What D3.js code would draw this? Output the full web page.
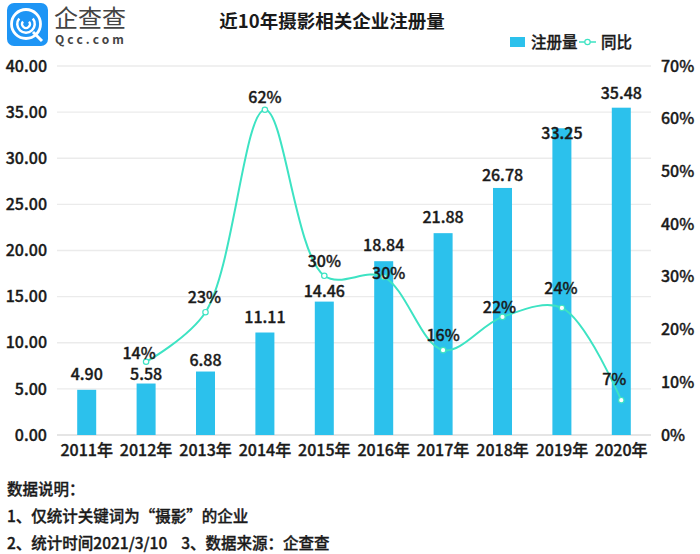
<!DOCTYPE html>
<html>
<head>
<meta charset="utf-8">
<script src="https://cdn.jsdelivr.net/npm/d3@7"></script>
<style>
  html, body { margin: 0; padding: 0; background: #fff; }
  text { font-family: "Noto Sans CJK SC", "Noto Sans", sans-serif; fill: #1a1a1a; }
  .medium, .axis text { stroke: #1a1a1a; stroke-width: 0.35px; }
</style>
</head>
<body>
<svg id="vis" width="700" height="554"></svg>
<script>
var years = ['2011年','2012年','2013年','2014年','2015年','2016年','2017年','2018年','2019年','2020年'];
var registered = [4.90, 5.58, 6.88, 11.11, 14.46, 18.84, 21.88, 26.78, 33.25, 35.48];
var yoyYears = ['2012年','2013年','2014年','2015年','2016年','2017年','2018年','2019年','2020年'];
var yoy = [14, 23, 62, 30, 30, 16, 22, 24, 7];
var yoyExact = [13.9, 23.3, 61.7, 30.2, 30.0, 16.1, 22.4, 24.1, 6.6];
var leftTicks = [0, 5, 10, 15, 20, 25, 30, 35, 40];
var rightTicks = [0, 10, 20, 30, 40, 50, 60, 70];
var notes = ['数据说明：', '1、仅统计关键词为“摄影”的企业', '2、统计时间2021/3/10    3、数据来源：企查查'];

var svg = d3.select('#vis');
var plotLeft = 57, plotRight = 651, plotTop = 66, plotBottom = 435;

var x = d3.scaleBand().domain(years).range([plotLeft, plotRight]);
var yLeft = d3.scaleLinear().domain([0, 40]).range([plotBottom, plotTop]);
var yRight = d3.scaleLinear().domain([0, 70]).range([plotBottom, plotTop]);

// grid lines
svg.append('g').selectAll('line').data(leftTicks).join('line')
    .attr('x1', plotLeft).attr('x2', plotRight)
    .attr('y1', function(d) {return yLeft(d)})
    .attr('y2', function(d) {return yLeft(d)})
    .attr('stroke', function(d) {return d === 0 ? '#dddddd' : '#ebebeb'})
    .attr('stroke-width', 1.3);

// axes
var axisLeft = d3.axisLeft(yLeft).tickValues(leftTicks).tickFormat(d3.format('.2f')).tickSize(0).tickPadding(0);
svg.append('g').attr('class', 'axis').attr('transform', 'translate(47,0)').call(axisLeft);
var axisRight = d3.axisRight(yRight).tickValues(rightTicks).tickFormat(function(d) {return d + '%'}).tickSize(0).tickPadding(0);
svg.append('g').attr('class', 'axis').attr('transform', 'translate(661,0)').call(axisRight);
var axisBottom = d3.axisBottom(x).tickSize(0).tickPadding(0);
svg.append('g').attr('class', 'axis').attr('transform', 'translate(0,445)').call(axisBottom);
svg.selectAll('.axis .domain').remove();
svg.selectAll('.axis text').style('font-size', '16px').style('font-weight', 500).style('font-family', '"Noto Sans CJK SC"').attr('fill', '#1a1a1a');

// bars
var barWidth = 19;
svg.append('g').selectAll('rect').data(registered).join('rect')
    .attr('x', function(d, i) {return x(years[i]) + x.bandwidth() / 2 - barWidth / 2})
    .attr('width', barWidth)
    .attr('y', function(d) {return yLeft(d)})
    .attr('height', function(d) {return plotBottom - yLeft(d)})
    .attr('fill', '#2cc1ec');

// line
var line = d3.line()
    .x(function(d, i) {return x(yoyYears[i]) + x.bandwidth() / 2})
    .y(function(d) {return yRight(d)})
    .curve(d3.curveCatmullRom.alpha(0.5));
svg.append('path').datum(yoyExact)
    .attr('d', line)
    .attr('fill', 'none')
    .attr('stroke', '#3de3c3')
    .attr('stroke-width', 2);
svg.append('g').selectAll('circle').data(yoyExact).join('circle')
    .attr('cx', function(d, i) {return x(yoyYears[i]) + x.bandwidth() / 2})
    .attr('cy', function(d) {return yRight(d)})
    .attr('r', 2.7)
    .attr('fill', '#fff')
    .attr('stroke', '#3de3c3')
    .attr('stroke-width', 1.2);

// value labels
var barNudge = {1: 6, 2: 4, 4: 5, 7: 3, 8: 21, 9: 1};
svg.append('g').selectAll('text').data(registered).join('text')
    .attr('class', 'medium')
    .attr('x', function(d, i) {return x(years[i]) + x.bandwidth() / 2})
    .attr('y', function(d, i) {return yLeft(d) - 10 + (barNudge[i] || 0)})
    .attr('text-anchor', 'middle')
    .style('font-size', '16px').style('font-weight', 500)
    .text(function(d) {return d.toFixed(2)});

var lineNudgeX = {0: -7, 1: -1, 4: 5, 6: -3, 7: -1, 8: -7};
var lineNudgeY = {0: 6, 2: 2, 4: 11, 6: 5, 7: -5, 8: -6};
svg.append('g').selectAll('text').data(yoy).join('text')
    .attr('class', 'medium')
    .attr('x', function(d, i) {return x(yoyYears[i]) + x.bandwidth() / 2 + (lineNudgeX[i] || 0)})
    .attr('y', function(d, i) {return yRight(yoyExact[i]) - 9 + (lineNudgeY[i] || 0)})
    .attr('text-anchor', 'middle')
    .style('font-size', '16px').style('font-weight', 500)
    .text(function(d) {return d + '%'});

// title
svg.append('text').attr('x', 332).attr('y', 28).attr('text-anchor', 'middle')
    .style('font-size', '18.5px').style('font-weight', 700)
    .text('近10年摄影相关企业注册量');

// legend
svg.append('rect').attr('x', 510).attr('y', 37).attr('width', 15).attr('height', 10).attr('fill', '#2cc1ec');
svg.append('text').attr('class', 'medium').attr('x', 531).attr('y', 48).style('font-size', '15.5px').style('font-weight', 500).text('注册量');
svg.append('line').attr('x1', 579).attr('x2', 596).attr('y1', 42).attr('y2', 42).attr('stroke', '#3de3c3').attr('stroke-width', 1.5);
svg.append('circle').attr('cx', 587.5).attr('cy', 42).attr('r', 2.7).attr('fill', '#fff').attr('stroke', '#3de3c3').attr('stroke-width', 1.2);
svg.append('text').attr('class', 'medium').attr('x', 601).attr('y', 48).style('font-size', '15.5px').style('font-weight', 500).text('同比');

// footnotes
svg.append('g').selectAll('text').data(notes).join('text')
    .attr('class', 'medium')
    .attr('x', 7)
    .attr('y', function(d, i) {return 495 + i * 27})
    .attr('xml:space', 'preserve')
    .style('white-space', 'pre')
    .style('font-size', '15.5px').style('font-weight', 500)
    .text(function(d) {return d});

// logo
var logo = svg.append('g');
logo.append('rect').attr('x', 7).attr('y', 3).attr('width', 41).attr('height', 43).attr('rx', 7).attr('fill', '#1e95f5');
logo.append('circle').attr('cx', 26).attr('cy', 24).attr('r', 14.5).attr('fill', 'none').attr('stroke', '#fff').attr('stroke-width', 2.8);
logo.append('path').attr('d', d3.arc()({innerRadius: 7.5, outerRadius: 10, startAngle: 0.9, endAngle: 5.4}))
    .attr('transform', 'translate(26,24)').attr('fill', '#fff');
logo.append('path').attr('d', d3.arc()({innerRadius: 2.8, outerRadius: 5, startAngle: 0.9, endAngle: 5.4}))
    .attr('transform', 'translate(26,24)').attr('fill', '#fff');
logo.append('line').attr('x1', 33).attr('y1', 32).attr('x2', 42).attr('y2', 41).attr('stroke', '#fff').attr('stroke-width', 3);
logo.append('text').attr('x', 54).attr('y', 27).style('fill', '#444')
    .style('font-size', '24px').style('font-weight', 400).text('企查查');
logo.append('text').attr('x', 55).attr('y', 44).style('fill', '#444')
    .style('font-size', '12px').style('font-weight', 700).style('letter-spacing', '3.1px').text('Qcc.com');
</script>
</body>
</html>
